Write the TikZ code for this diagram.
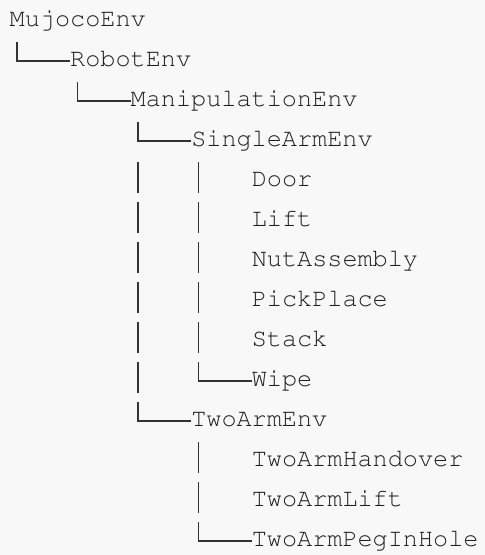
\documentclass[tikz,border=0pt]{standalone}
\usepackage{fontspec}
\usetikzlibrary{calc}
\definecolor{ink}{HTML}{333333}
\definecolor{type}{HTML}{1E1E1E}
\definecolor{paper}{HTML}{F8F8F8}
\newcommand{\courier}{\fontencoding{T1}\fontfamily{pcr}\fontsize{25.2pt}{30pt}\selectfont}
\tikzset{
  cls/.style={anchor=base west, inner sep=0pt, text=type, font=\courier},
  branch/.style={draw=ink, line width=1.3pt}
}
% corner from the parent's first column down and across to the child
\newcommand{\elbow}[2]{\draw[branch] let \p1=(#1.base west), \p2=(#2.base west) in (\x1+7.56pt,\y2+24.7pt) |- (\x2,\y2+5.7pt);}
% one bar in the parent's column, on the row of the given node
\newcommand{\riser}[2]{\draw[branch] let \p1=(#1.base west), \p2=(#2.base west) in (\x1+7.56pt,\y2+24.5pt) -- (\x1+7.56pt,\y2-6pt);}

\begin{document}
\begin{tikzpicture}[x=15.13pt, y=-40pt]
  \fill[paper] (-9.5pt,26.7pt) rectangle (475.5pt,-528.3pt);
  \useasboundingbox (-9.5pt,26.7pt) rectangle (475.5pt,-528.3pt);

  \node[cls] (mujoco) at (0,0) {MujocoEnv};
  \node[cls] (robot) at (4,1) {RobotEnv};
  \node[cls] (manip) at (8,2) {ManipulationEnv};
  \node[cls] (single) at (12,3) {SingleArmEnv};
  \node[cls] (door) at (16,4) {Door};
  \node[cls] (lift) at (16,5) {Lift};
  \node[cls] (nut) at (16,6) {NutAssembly};
  \node[cls] (pick) at (16,7) {PickPlace};
  \node[cls] (stack) at (16,8) {Stack};
  \node[cls] (wipe) at (16,9) {Wipe};
  \node[cls] (two) at (12,10) {TwoArmEnv};
  \node[cls] (handover) at (16,11) {TwoArmHandover};
  \node[cls] (twolift) at (16,12) {TwoArmLift};
  \node[cls] (peg) at (16,13) {TwoArmPegInHole};

  \elbow{mujoco}{robot}
  \elbow{robot}{manip}
  \elbow{manip}{single}
  \elbow{single}{wipe}
  \elbow{manip}{two}
  \elbow{two}{peg}

  \foreach \c in {door,lift,nut,pick,stack,wipe} {\riser{manip}{\c}}
  \foreach \c in {door,lift,nut,pick,stack} {\riser{single}{\c}}
  \foreach \c in {handover,twolift} {\riser{two}{\c}}
\end{tikzpicture}
\end{document}
